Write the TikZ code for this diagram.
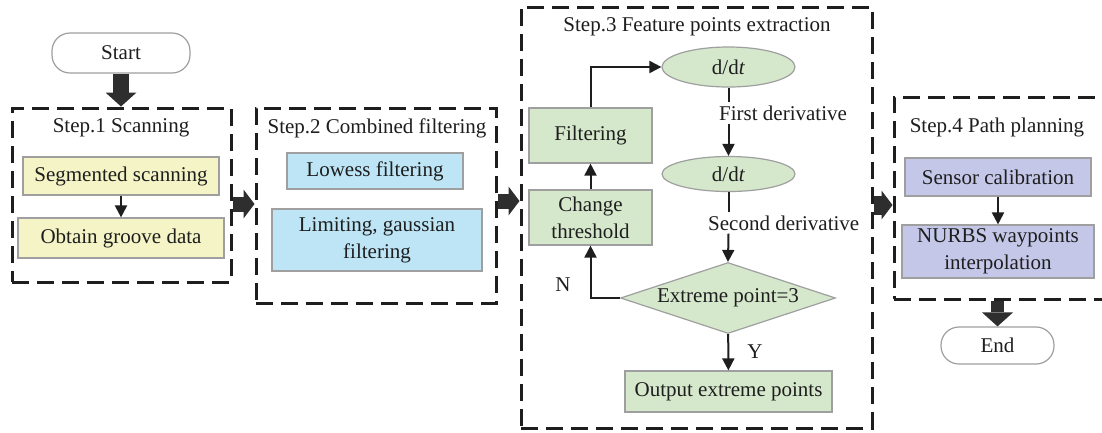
\documentclass[tikz,border=0pt]{standalone}
\usepackage{fontspec}
\setmainfont{Liberation Serif}
\usetikzlibrary{arrows.meta,shapes.geometric,calc}
\definecolor{ylw}{HTML}{F4F4C6}
\definecolor{blu}{HTML}{BDE5F6}
\definecolor{grn}{HTML}{D5E8CC}
\definecolor{lav}{HTML}{C4C7E8}
\definecolor{ink}{HTML}{1E1E1E}
\definecolor{fatc}{HTML}{2E2E2E}
\begin{document}
\begin{tikzpicture}[x=1pt,y=-1pt,
  font=\fontsize{21}{27}\selectfont, text=ink,
  frame/.style={draw=ink, line width=3pt, dash pattern=on 17pt off 8pt, inner sep=0pt},
  procbox/.style={draw=gray!75, line width=1.2pt, inner sep=0pt, align=center},
  ybox/.style={procbox, fill=ylw},
  bbox/.style={procbox, fill=blu},
  gbox/.style={procbox, fill=grn},
  lbox/.style={procbox, fill=lav},
  terminal/.style={procbox, fill=white, rounded corners=18pt},
  oval/.style={procbox, ellipse, fill=grn, minimum width=133pt},
  decision/.style={procbox, diamond, shape aspect=3, fill=grn},
  title/.style={inner sep=0pt},
  lbl/.style={inner sep=3pt, anchor=west},
  link/.style={draw=ink, line width=2pt, -{Triangle[length=12pt,width=12pt]}},
  plain/.style={draw=ink, line width=2pt},
  fat/.style={draw=fatc, line width=15pt, -{Triangle[length=11pt,width=29pt,line width=0pt]}},
  fatv/.style={draw=fatc, line width=16pt, -{Triangle[length=14pt,width=31pt,line width=0pt]}}
]
\clip (0,0) rectangle (1102,432);
\fill[white] (0,0) rectangle (1102,432);

% terminals
\node[terminal, minimum width=138pt, minimum height=40pt] (start) at (121,53) {Start};
\node[terminal, minimum width=113pt, minimum height=37pt] (end) at (997.5,345.5) {End};

% Step 1
\node[frame, minimum width=219pt, minimum height=174pt] (s1) at (121.5,195) {};
\node[title] (t1) at (121,128) {Step.1 Scanning};
\node[ybox, minimum width=196pt, minimum height=38pt] (seg) at (121,176) {Segmented scanning};
\node[ybox, minimum width=206pt, minimum height=40pt] (obt) at (121,238) {Obtain groove data};

% Step 2
\node[frame, minimum width=240pt, minimum height=195pt] (s2) at (376,205.5) {};
\node[title] (t2) at (377,128) {Step.2 Combined filtering};
\node[bbox, minimum width=176pt, minimum height=36pt] (low) at (375,171) {Lowess filtering};
\node[bbox, minimum width=210pt, minimum height=62pt] (lim) at (377,240) {Limiting, gaussian\\filtering};

% Step 3
\node[frame, minimum width=351pt, minimum height=421pt] (s3) at (696.5,217.5) {};
\node[title] (t3) at (697,27) {Step.3 Feature points extraction};
\node[oval, minimum height=40pt] (e1) at (728.5,67) {d/d\textit{t}};
\node[oval, minimum height=35pt] (e2) at (728.5,174) {d/d\textit{t}};
\node[gbox, minimum width=123pt, minimum height=55pt] (filt) at (590.5,135.5) {Filtering};
\node[gbox, minimum width=123pt, minimum height=55pt] (chg) at (590.5,217.5) {Change\\threshold};
\node[decision, minimum width=215pt, minimum height=71pt] (dia) at (728,298) {Extreme point=3};
\node[gbox, minimum width=207pt, minimum height=41pt] (out) at (728.5,391.5) {Output extreme points};
\node[lbl] (fd) at (716,113) {First derivative};
\node[lbl] (sd) at (705,223) {Second derivative};
\node[title] (nl) at (563,285) {N};
\node[title] (yl) at (755,352) {Y};

% Step 4
\node[frame, minimum width=212pt, minimum height=202pt] (s4) at (1000,198) {};
\node[title] (t4) at (997,127) {Step.4 Path planning};
\node[lbox, minimum width=186pt, minimum height=38pt] (sen) at (998,177) {Sensor calibration};
\node[lbox, minimum width=192pt, minimum height=53pt] (nur) at (998,251.5) {NURBS waypoints\\interpolation};

% flow inside the steps
\draw[link] (seg) -- (obt);
\draw[link] (sen) -- (nur);
\draw[link] (filt.north) |- (e1.west);
\draw[link] (chg) -- (filt);
\draw[link] (dia.west) -| (chg.south);
\draw[link] (dia) -- (out);
\draw[plain] (e1.south) -- (e1.south |- fd.north);
\draw[link] (e1.south |- fd.south) -- (e2.north);
\draw[plain] (e2.south) -- (e2.south |- sd.north);
\draw[link] (e2.south |- sd.south) -- (dia.north);

% flow between the steps
\coordinate (r12) at (0,204);
\coordinate (r23) at (0,201);
\coordinate (r34) at (0,205);
\draw[fatv] (start.south) -- (start.south |- s1.north);
\draw[fat] (s1.east |- r12) -- (s2.west |- r12);
\draw[fat] (s2.east |- r23) -- (s3.west |- r23);
\draw[fat, line width=19pt] (s3.east |- r34) -- (s4.west |- r34);
\draw[fatv, line width=13pt] (end.north |- s4.south) -- (end.north);
\end{tikzpicture}
\end{document}
